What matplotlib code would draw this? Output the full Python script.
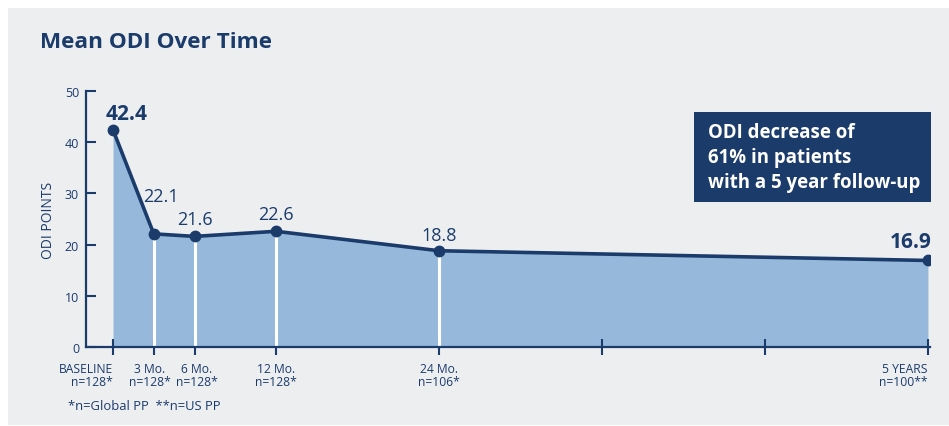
import matplotlib.pyplot as plt
from matplotlib.patches import Rectangle
from matplotlib.transforms import offset_copy

# data
months = [0, 3, 6, 12, 24, 60]
odi = [42.4, 22.1, 21.6, 22.6, 18.8, 16.9]
value_labels = ['42.4', '22.1', '21.6', '22.6', '18.8', '16.9']
tick_pos = [0, 3, 6, 12, 24, 36, 48, 60]
tick_labels = ['BASELINE\nn=128*', '3 Mo.\nn=128*', '6 Mo.\nn=128*', '12 Mo.\nn=128*',
               '24 Mo.\nn=106*', '', '', '5 YEARS\nn=100**']

navy = '#1b3b6b'
fill_col = '#96b9db'
bg = '#edeef0'

plt.rcParams['font.family'] = ['Open Sans', 'DejaVu Sans']

fig = plt.figure(figsize=(9.49, 4.27), dpi=100)
fig.patches.append(Rectangle((8 / 949, 0.002), 1, 1 - 9 / 427 - 0.002, transform=fig.transFigure,
                             facecolor=bg, edgecolor='none', zorder=-10))

ax = fig.add_axes([86 / 949, 1 - 348 / 427, (930 - 86) / 949, (348 - 92) / 427])
ax.set_facecolor('none')

ax.fill_between(months, odi, 0, color=fill_col, lw=0, zorder=1)
ax.vlines(months[1:-1], 0, odi[1:-1], color='white', lw=2.2, zorder=2)
ax.plot(months, odi, color=navy, lw=2.6, marker='o', ms=7.5, zorder=3, solid_capstyle='round')

# value labels
offsets = [(14, 16), (7, 38), (0, 17), (0, 17), (0, 16), (-17, 19)]
for i, (m, v) in enumerate(zip(months, odi)):
    bold = i in (0, len(odi) - 1)
    ax.annotate(value_labels[i], (m, v), xytext=offsets[i], textcoords='offset pixels',
                ha='center', va='center', color=navy,
                fontsize=15 if bold else 13, fontweight='bold' if bold else 'medium')

ax.set_xlim(-1.99, 60.15)
ax.set_ylim(0, 50)
ax.set_yticks([0, 10, 20, 30, 40, 50])
ax.tick_params(axis='y', direction='in', length=7, width=1.5, color=navy,
               labelcolor=navy, labelsize=9, pad=5)
ax.set_xticks(tick_pos)
ax.set_xticklabels([''] * len(tick_pos))
ax.tick_params(axis='x', direction='inout', length=12, width=1.5, color=navy)

# x tick labels, nudged like the original
label_shift = [0, -4, 2, 0, 0, 0, 0, 0]
for p, lab, dx in zip(tick_pos, tick_labels, label_shift):
    if not lab:
        continue
    ha = 'right' if p in (0, 60) else 'center'
    tr = offset_copy(ax.get_xaxis_transform(), fig=fig, x=dx, y=-15, units='dots')
    ax.text(p, 0, lab, transform=tr, ha=ha, va='top', multialignment=ha,
            color=navy, fontsize=8.7, linespacing=1.05)

for s in ['top', 'right']:
    ax.spines[s].set_visible(False)
for s in ['left', 'bottom']:
    ax.spines[s].set_color(navy)
    ax.spines[s].set_linewidth(1.6)

ax.set_ylabel('ODI POINTS', color=navy, fontsize=10, labelpad=6)

fig.text(40 / 949, 1 - 43 / 427, 'Mean ODI Over Time', color=navy, fontsize=16.2,
         fontweight='bold', va='center', ha='left')
fig.text(68 / 949, 1 - 407 / 427, '*n=Global PP  **n=US PP', color=navy, fontsize=9.4,
         va='center', ha='left')

# callout box
fig.patches.append(Rectangle((694 / 949, 1 - 203 / 427), (931 - 694) / 949, (203 - 113) / 427,
                             transform=fig.transFigure, facecolor=navy, edgecolor='none', zorder=5))
fig.text(708 / 949, 1 - 158 / 427, 'ODI decrease of\n61% in patients\nwith a 5 year follow-up',
         color='white', fontsize=13.4, fontweight='bold', va='center', ha='left',
         linespacing=1.32, zorder=6)

fig.savefig('out.png', dpi=100)
